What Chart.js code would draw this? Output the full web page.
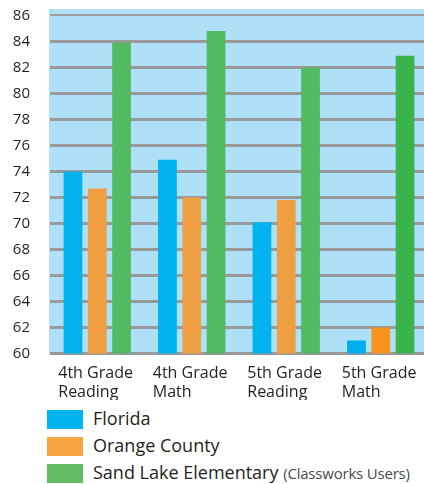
<!DOCTYPE html>
<html>
<head>
<meta charset="utf-8">
<script src="https://cdn.jsdelivr.net/npm/chart.js@4/dist/chart.umd.min.js"></script>
<style>
  html, body { margin: 0; padding: 0; background: #ffffff; overflow: hidden; width: 424px; height: 484px; }
  #wrap { position: absolute; left: 0; top: 0; width: 428px; height: 400px; }
  #legend { position: absolute; left: 47px; top: 410px; font-family: "Open Sans", sans-serif; color: #231F20; }
  .item { position: relative; height: 27px; white-space: nowrap; }
  .box { position: absolute; left: 0; top: 0; width: 36px; height: 19px; }
  .lab { position: absolute; left: 46px; top: -4px; font-size: 18px; line-height: 24px; }
  .small { font-size: 15px; color: #4a4a4a; letter-spacing: -0.2px; }
</style>
</head>
<body>
<div id="wrap"><canvas id="c" width="428" height="400"></canvas></div>
<div id="legend"></div>
<script>
const categories = [["4th Grade", "Reading"], ["4th Grade", "Math"], ["5th Grade", "Reading"], ["5th Grade", "Math"]];
const florida = [74, 74.9, 70.1, 61];
const orangeCounty = [72.7, 72, 71.8, 62];
const sandLake = [83.9, 84.8, 82, 82.9];
const seriesNames = ["Florida", "Orange County", "Sand Lake Elementary"];
const seriesNotes = ["", "", "(Classworks Users)"];
const yTicks = [60, 62, 64, 66, 68, 70, 72, 74, 76, 78, 80, 82, 84, 86];

const legendColors = ["#00B4EF", "#F7A541", "#62BD62"];

const bgPlugin = {
  id: 'plotBg',
  beforeDraw(chart) {
    const { ctx, chartArea } = chart;
    ctx.save();
    ctx.fillStyle = '#AEE0F7';
    ctx.fillRect(chartArea.left - 1, chartArea.top, chartArea.right - chartArea.left + 1, chartArea.bottom - chartArea.top);
    ctx.restore();
  }
};

function zeroPad(scale) {
  scale.paddingLeft = 0; scale.paddingRight = 0; scale.paddingTop = 0; scale.paddingBottom = 0;
}

new Chart(document.getElementById('c'), {
  type: 'bar',
  data: {
    labels: categories,
    datasets: [
      { label: seriesNames[0], data: florida, backgroundColor: ["#00B2EE", "#00B2EE", "#00B2EE", "#00AEEF"] },
      { label: seriesNames[1], data: orangeCounty, backgroundColor: ["#EF9F42", "#EF9F42", "#EF9F42", "#F7941E"] },
      { label: seriesNames[2], data: sandLake, backgroundColor: ["#52BA60", "#52BA60", "#52BA60", "#39B44A"] }
    ]
  },
  options: {
    responsive: false,
    animation: false,
    devicePixelRatio: 1,
    layout: { padding: { top: 9, right: 0, left: 0, bottom: 0 }, autoPadding: false },
    categoryPercentage: 0.771,
    barPercentage: 0.77,
    plugins: { legend: { display: false }, tooltip: { enabled: false } },
    scales: {
      x: {
        grid: { display: false, drawTicks: false },
        border: { display: false },
        ticks: {
          color: '#231F20',
          font: { family: 'Open Sans', size: 16, lineHeight: 1.2 },
          align: 'start',
          labelOffset: -39,
          padding: 10,
          autoSkip: false,
          maxRotation: 0
        },
        afterFit(scale) { scale.height = 46.5; zeroPad(scale); }
      },
      y: {
        min: 60,
        max: 86.5,
        ticks: {
          stepSize: 2,
          color: '#231F20',
          font: { family: 'Open Sans', size: 15 },
          padding: 20
        },
        afterBuildTicks(scale) { scale.ticks = yTicks.map(v => ({ value: v })); },
        grid: {
          drawTicks: false,
          color: (c) => c.tick && c.tick.value === 86 ? '#9E9E9E' : '#999999',
          lineWidth: (c) => c.tick && c.tick.value === 86 ? 2 : 3
        },
        border: { display: false },
        afterFit(scale) { scale.width = 50; zeroPad(scale); }
      }
    }
  },
  plugins: [bgPlugin]
});

const legend = document.getElementById('legend');
seriesNames.forEach((name, i) => {
  const it = document.createElement('div');
  it.className = 'item';
  const b = document.createElement('div');
  b.className = 'box';
  b.style.background = legendColors[i];
  const l = document.createElement('div');
  l.className = 'lab';
  l.textContent = name + (seriesNotes[i] ? ' ' : '');
  if (seriesNotes[i]) {
    const s = document.createElement('span');
    s.className = 'small';
    s.textContent = seriesNotes[i];
    l.appendChild(s);
  }
  it.appendChild(b); it.appendChild(l);
  legend.appendChild(it);
});
</script>
</body>
</html>
